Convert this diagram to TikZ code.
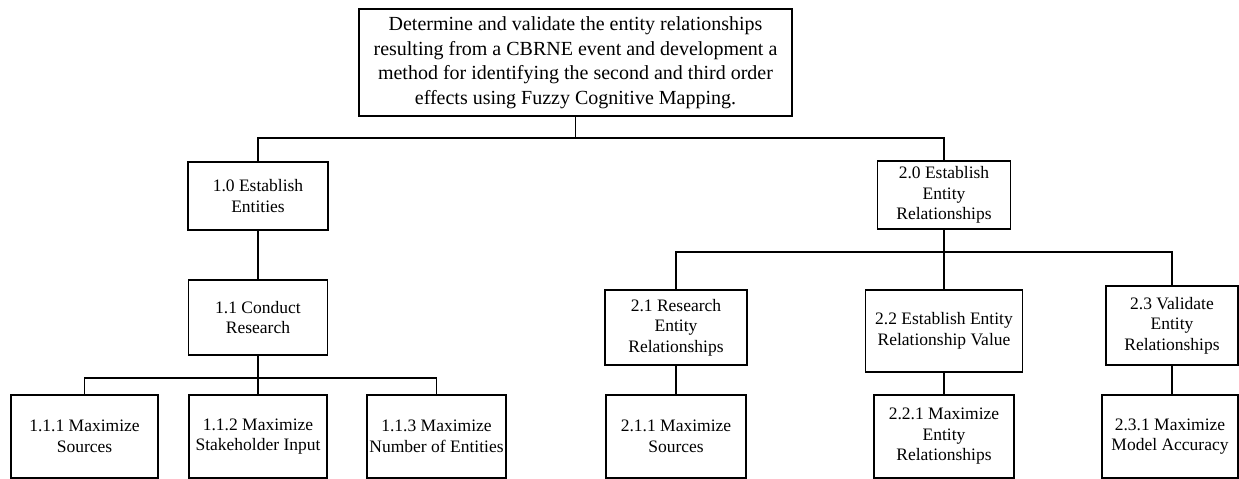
\documentclass[tikz,border=0pt]{standalone}
\usepackage{fontspec}
\setmainfont{Liberation Serif}
\usetikzlibrary{positioning}

\begin{document}
\begin{tikzpicture}[x=1pt, y=-1pt, line width=1.4pt,
			every node/.style={draw, rectangle, line width=1.4pt, align=center, inner sep=0pt,
				font=\rmfamily\fontsize{17.5}{20.5}\selectfont},
			size/.style 2 args={minimum width=#1pt, minimum height=#2pt}]
			\useasboundingbox (0,0) rectangle (1239,479);

			\node (G) at (575.5,62.5) [size={433}{107}, font=\rmfamily\fontsize{20}{24.5}\selectfont]
				{Determine and validate the entity relationships\\ resulting from a CBRNE event and development a\\ method for identifying the second and third order\\ effects using Fuzzy Cognitive Mapping.};
			\node (A) at (258,196) [size={140}{68}] {1.0 Establish\\ Entities};
			\node (A1) at (258,317.5) [size={139}{75}] {1.1 Conduct\\ Research};
			\node (A11) at (84.5,436.5) [size={147}{83}] {1.1.1 Maximize\\ Sources};
			\node (A12) at (258,436.5) [size={138}{83}] {1.1.2 Maximize\\ Stakeholder Input};
			\node (A13) at (436.5,436.5) [size={139}{83}] {1.1.3 Maximize\\ Number of Entities};
			\node (B) at (944,195) [size={133}{68}] {2.0 Establish\\ Entity\\ Relationships};
			\node (B1) at (676,327.5) [size={142}{75}] {2.1 Research\\ Entity\\ Relationships};
			\node (B2) at (944,331) [size={157}{82}] {2.2 Establish Entity\\ Relationship Value};
			\node (B3) at (1172,325.5) [size={132}{79}] {2.3 Validate\\ Entity\\ Relationships};
			\node (B11) at (676,436.5) [size={140}{83}] {2.1.1 Maximize\\ Sources};
			\node (B21) at (944,436.5) [size={140}{83}] {2.2.1 Maximize\\ Entity\\ Relationships};
			\node (B31) at (1170,436.5) [size={136}{83}] {2.3.1 Maximize\\ Model Accuracy};

			\coordinate (b0) at (575.5,138);
			\coordinate (b1) at (258,378);
			\coordinate (b2) at (944,252);

			\draw (G) -- (b0);
			\draw (b0) -| (A);
			\draw (b0) -| (B);
			\draw (A) -- (A1);
			\draw (A1) -- (b1);
			\draw (b1) -| (A11);
			\draw (b1) -- (A12);
			\draw (b1) -| (A13);
			\draw (B) -- (b2);
			\draw (b2) -| (B1);
			\draw (b2) -- (B2);
			\draw (b2) -| (B3);
			\draw (B1) -- (B11);
			\draw (B2) -- (B21);
			\draw (B3) -- (B3 |- B31.north);
	\end{tikzpicture}
\end{document}
